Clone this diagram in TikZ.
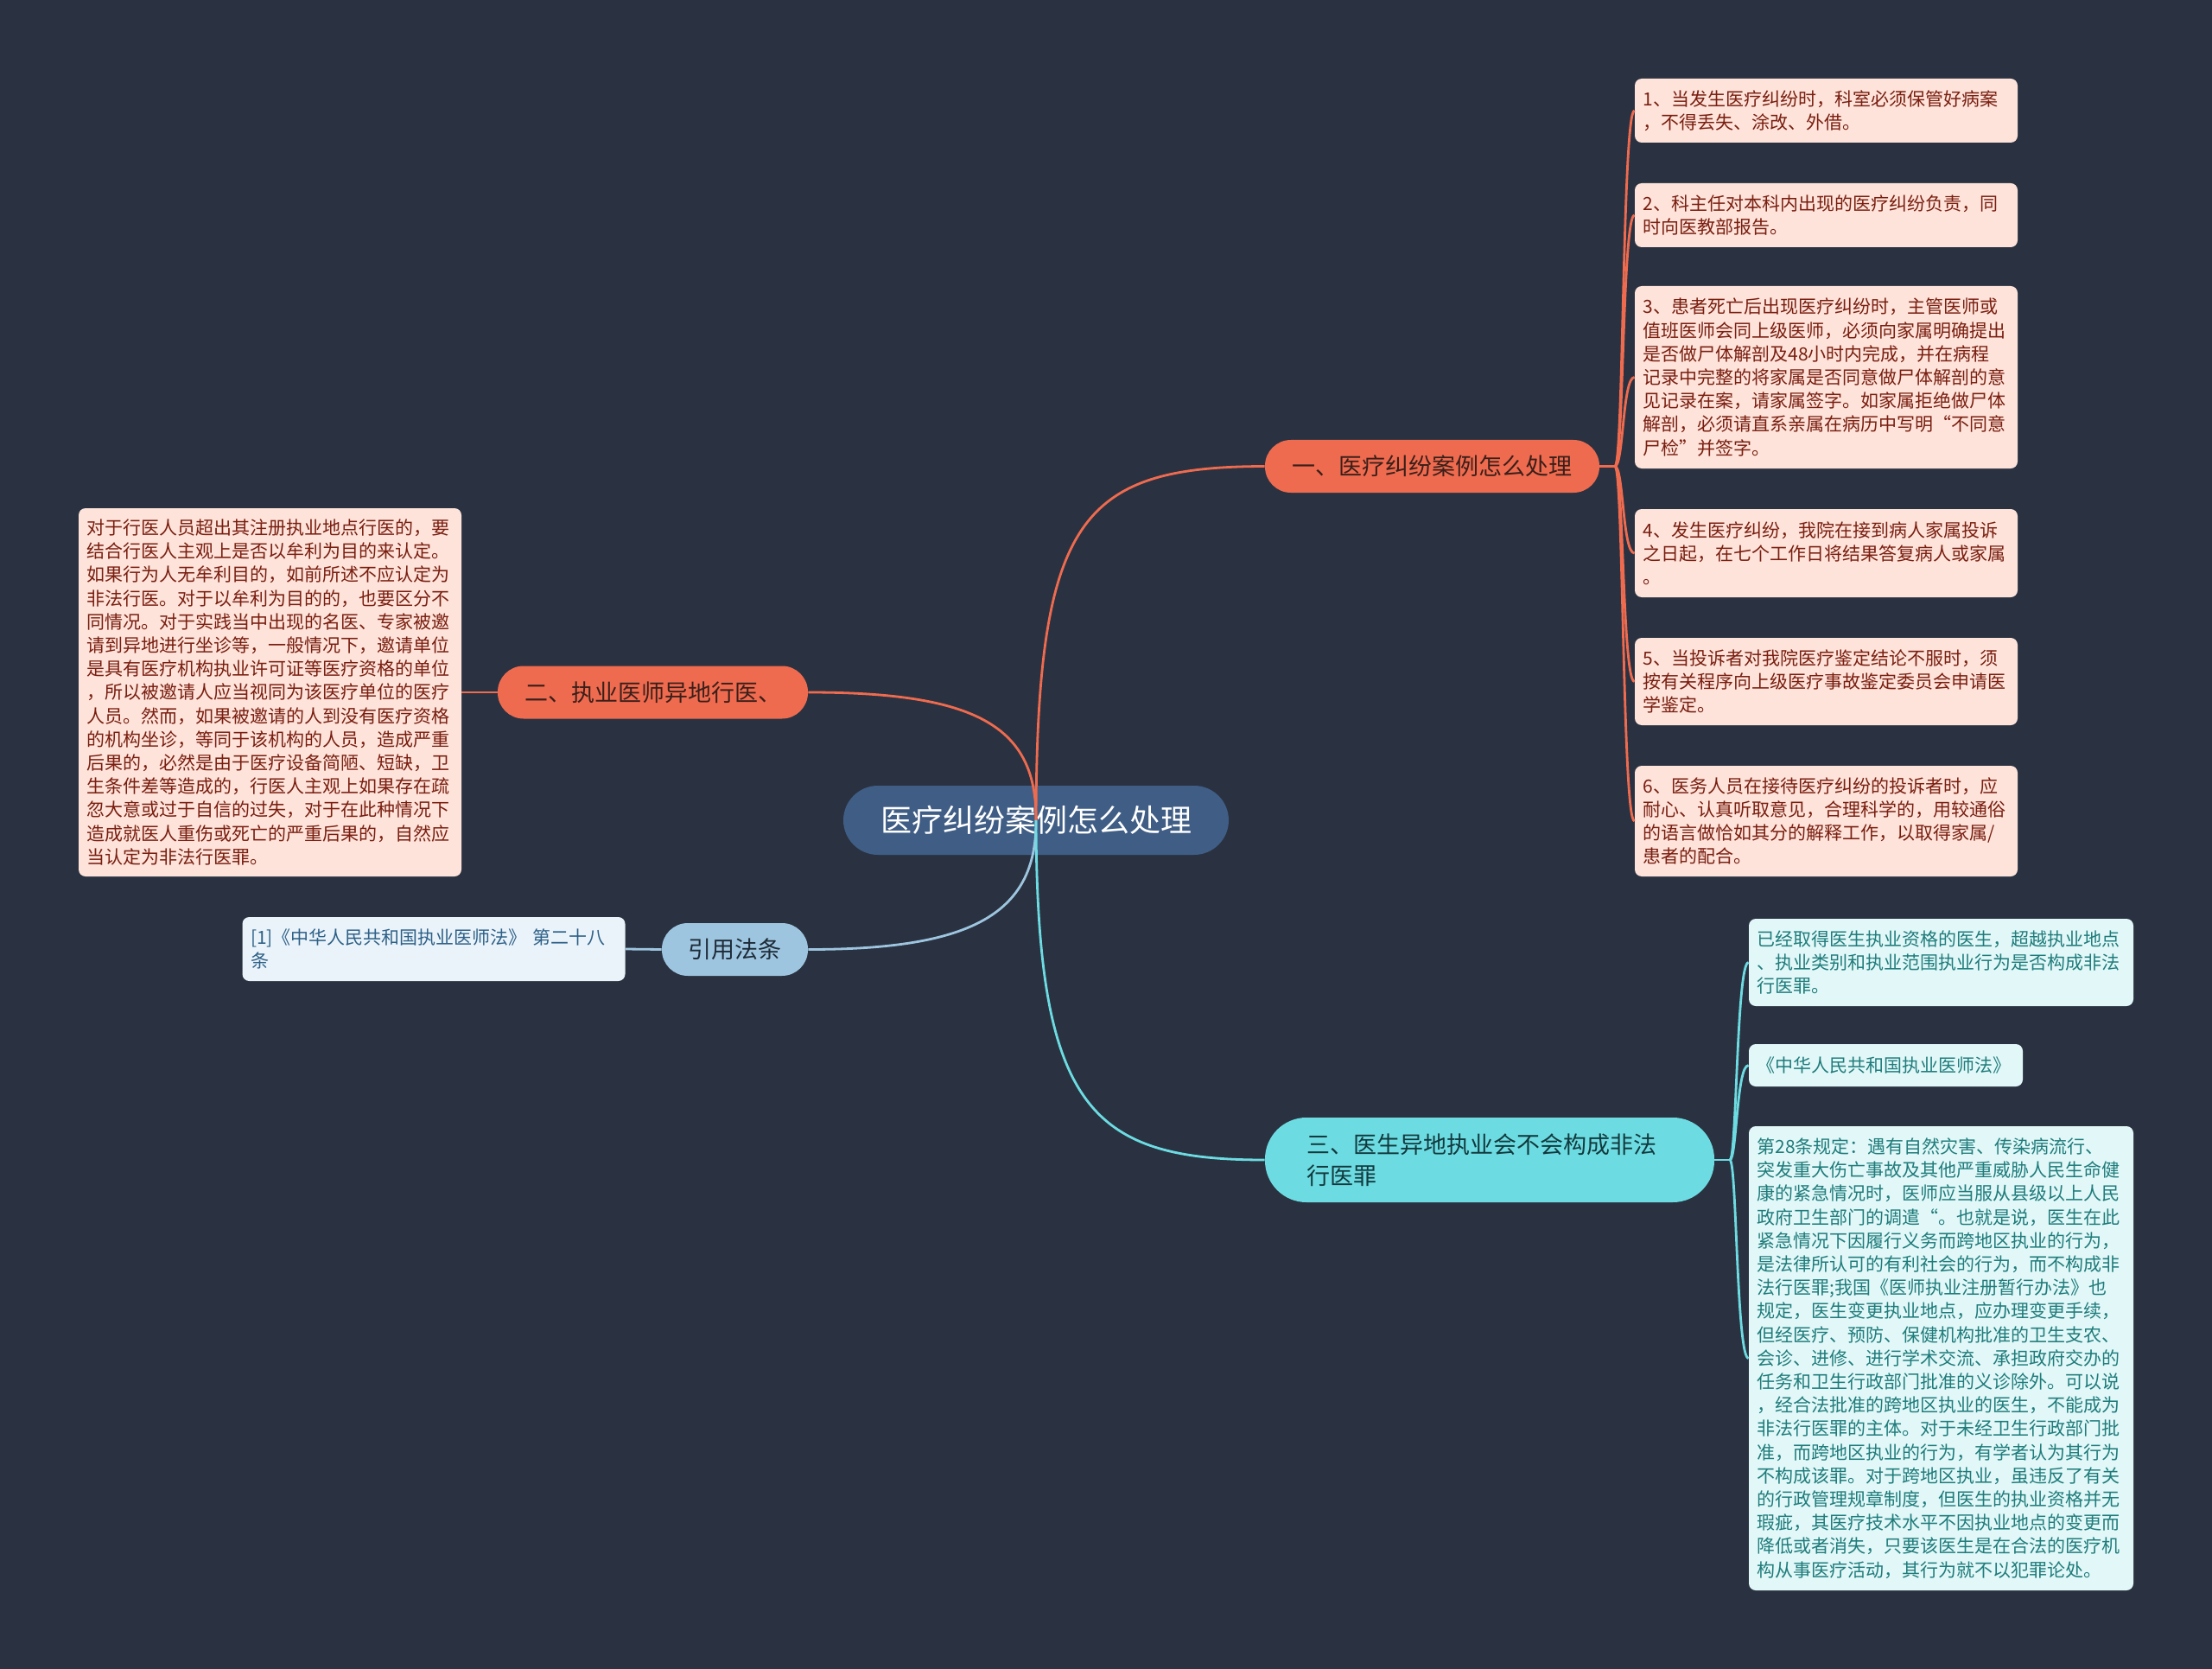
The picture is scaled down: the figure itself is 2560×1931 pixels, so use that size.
\documentclass[tikz,border=0pt]{standalone}
\usepackage{fontspec}
\newfontfamily\cjk{Noto Sans CJK SC}
\definecolor{bg}{HTML}{2A3241}
\definecolor{hubblue}{HTML}{3F5D85}
\definecolor{redtopic}{HTML}{EF6B4F}
\definecolor{redleaf}{HTML}{FDE3DA}
\definecolor{redtext}{HTML}{7A1E10}
\definecolor{redhead}{HTML}{3A1F1A}
\definecolor{reftopic}{HTML}{9EC5DF}
\definecolor{refleaf}{HTML}{EAF3F9}
\definecolor{reftext}{HTML}{2D6088}
\definecolor{refhead}{HTML}{1E2B38}
\definecolor{cyantopic}{HTML}{6DDCE2}
\definecolor{cyanleaf}{HTML}{E1F7F8}
\definecolor{cyantext}{HTML}{1F7C7B}
\definecolor{cyanhead}{HTML}{123A3E}
\begin{document}
\begin{tikzpicture}[
    x=0.5pt, y=-0.5pt,
    hub/.style = { fill=hubblue, text=white, rounded corners=20pt,
      minimum width=223pt, minimum height=40pt, font=\cjk\fontsize{18}{22}\selectfont },
    topic/.style = { rounded corners=15pt, minimum height=30.5pt,
      font=\cjk\fontsize{13.5}{18}\selectfont },
    leaf/.style = { rounded corners=4pt, align=left, inner xsep=4.75pt, text width=212pt,
      font=\cjk\fontsize{10.5}{13.6}\selectfont },
    redleafbox/.style = { leaf, fill=redleaf, text=redtext },
    cyanleafbox/.style = { leaf, fill=cyanleaf, text=cyantext },
    link/.style = { line width=1.4pt },
    ]

    % background
    \fill[bg] (0,0) rectangle (2560,1931);
    \useasboundingbox (0,0) rectangle (2560,1931);

    % center and main topics
    \node[hub] (hub) at (1199,949) {医疗纠纷案例怎么处理};
    \node[topic, fill=redtopic, text=redhead, minimum width=193.5pt] (t1) at (1657.5,539.5) {一、医疗纠纷案例怎么处理};
    \node[topic, fill=redtopic, text=redhead, minimum width=179.5pt] (t2) at (755.5,801) {二、执业医师异地行医、};
    \node[topic, fill=reftopic, text=refhead, minimum width=84.5pt] (t4) at (850.5,1098.5) {引用法条};
    \node[topic, fill=cyantopic, text=cyanhead, minimum width=260pt, minimum height=49pt,
      rounded corners=24pt, align=left, text width=212pt] (t3) at (1724,1342)
      {三、医生异地执业会不会构成非法\\行医罪};

    % leaves of topic one
    \node[redleafbox, minimum height=37pt] (l1) at (2113.5,128)
      {1、当发生医疗纠纷时，科室必须保管好病案\\，不得丢失、涂改、外借。};
    \node[redleafbox, minimum height=37pt] (l2) at (2113.5,249)
      {2、科主任对本科内出现的医疗纠纷负责，同\\时向医教部报告。};
    \node[redleafbox, minimum height=105.5pt] (l3) at (2113.5,436.5)
      {3、患者死亡后出现医疗纠纷时，主管医师或\\值班医师会同上级医师，必须向家属明确提出\\是否做尸体解剖及48小时内完成，并在病程\\记录中完整的将家属是否同意做尸体解剖的意\\见记录在案，请家属签字。如家属拒绝做尸体\\解剖，必须请直系亲属在病历中写明“不同意\\尸检”并签字。};
    \node[redleafbox, minimum height=51pt] (l4) at (2113.5,640)
      {4、发生医疗纠纷，我院在接到病人家属投诉\\之日起，在七个工作日将结果答复病人或家属\\。};
    \node[redleafbox, minimum height=50.5pt] (l5) at (2113.5,788.5)
      {5、当投诉者对我院医疗鉴定结论不服时，须\\按有关程序向上级医疗事故鉴定委员会申请医\\学鉴定。};
    \node[redleafbox, minimum height=64pt] (l6) at (2113.5,950)
      {6、医务人员在接待医疗纠纷的投诉者时，应\\耐心、认真听取意见，合理科学的，用较通俗\\的语言做恰如其分的解释工作，以取得家属/\\患者的配合。};

    % leaf of topic two
    \node[redleafbox, minimum height=213pt] (lf) at (312.5,801)
      {对于行医人员超出其注册执业地点行医的，要\\结合行医人主观上是否以牟利为目的来认定。\\如果行为人无牟利目的，如前所述不应认定为\\非法行医。对于以牟利为目的的，也要区分不\\同情况。对于实践当中出现的名医、专家被邀\\请到异地进行坐诊等，一般情况下，邀请单位\\是具有医疗机构执业许可证等医疗资格的单位\\，所以被邀请人应当视同为该医疗单位的医疗\\人员。然而，如果被邀请的人到没有医疗资格\\的机构坐诊，等同于该机构的人员，造成严重\\后果的，必然是由于医疗设备简陋、短缺，卫\\生条件差等造成的，行医人主观上如果存在疏\\忽大意或过于自信的过失，对于在此种情况下\\造成就医人重伤或死亡的严重后果的，自然应\\当认定为非法行医罪。};

    % leaf of the law reference
    \node[leaf, fill=refleaf, text=reftext, minimum height=37pt] (rl) at (502,1098)
      {[1]《中华人民共和国执业医师法》 第二十八\\条};

    % leaves of topic three
    \node[cyanleafbox, minimum height=50.5pt, text width=213pt] (c1) at (2246.5,1113.5)
      {已经取得医生执业资格的医生，超越执业地点\\、执业类别和执业范围执业行为是否构成非法\\行医罪。};
    \node[cyanleafbox, minimum height=24.5pt, text width=149pt] (c2) at (2182.5,1232.5)
      {《中华人民共和国执业医师法》};
    \node[cyanleafbox, minimum height=268.5pt, text width=213pt] (c3) at (2246.5,1571.5)
      {第28条规定：遇有自然灾害、传染病流行、\\突发重大伤亡事故及其他严重威胁人民生命健\\康的紧急情况时，医师应当服从县级以上人民\\政府卫生部门的调遣“。也就是说，医生在此\\紧急情况下因履行义务而跨地区执业的行为，\\是法律所认可的有利社会的行为，而不构成非\\法行医罪;我国《医师执业注册暂行办法》也\\规定，医生变更执业地点，应办理变更手续，\\但经医疗、预防、保健机构批准的卫生支农、\\会诊、进修、进行学术交流、承担政府交办的\\任务和卫生行政部门批准的义诊除外。可以说\\，经合法批准的跨地区执业的医生，不能成为\\非法行医罪的主体。对于未经卫生行政部门批\\准，而跨地区执业的行为，有学者认为其行为\\不构成该罪。对于跨地区执业，虽违反了有关\\的行政管理规章制度，但医生的执业资格并无\\瑕疵，其医疗技术水平不因执业地点的变更而\\降低或者消失，只要该医生是在合法的医疗机\\构从事医疗活动，其行为就不以犯罪论处。};

    % links from the center
    \draw[link, redtopic] (hub.center) .. controls (1200,600) and (1250,540) .. (t1.west);
    \draw[link, redtopic] (hub.center) .. controls (1200,840) and (1130,801) .. (t2.east);
    \draw[link, reftopic] (hub.center) .. controls (1200,1060) and (1120,1098.5) .. (t4.east);
    \draw[link, cyantopic] (hub.center) .. controls (1200,1280) and (1260,1342) .. (t3.west);

    % links to the leaves
    \coordinate (j1) at (1869,539.5);
    \coordinate (j3) at (2002,1342);
    \draw[link, redtopic] (t1.east) -- (j1);
    \foreach \n in {1,...,6}
      \draw[link, redtopic] (j1) .. controls +(10,0) and +(-14,0) .. (l\n.west);
    \draw[link, cyantopic] (t3.east) -- (j3);
    \foreach \n in {1,2,3}
      \draw[link, cyantopic] (j3) .. controls +(8,0) and +(-14,0) .. (c\n.west);
    \draw[link, redtopic] (t2.west) -- (lf.east);
    \draw[link, reftopic] (t4.west) -- (rl.east);

  \end{tikzpicture}
\end{document}
